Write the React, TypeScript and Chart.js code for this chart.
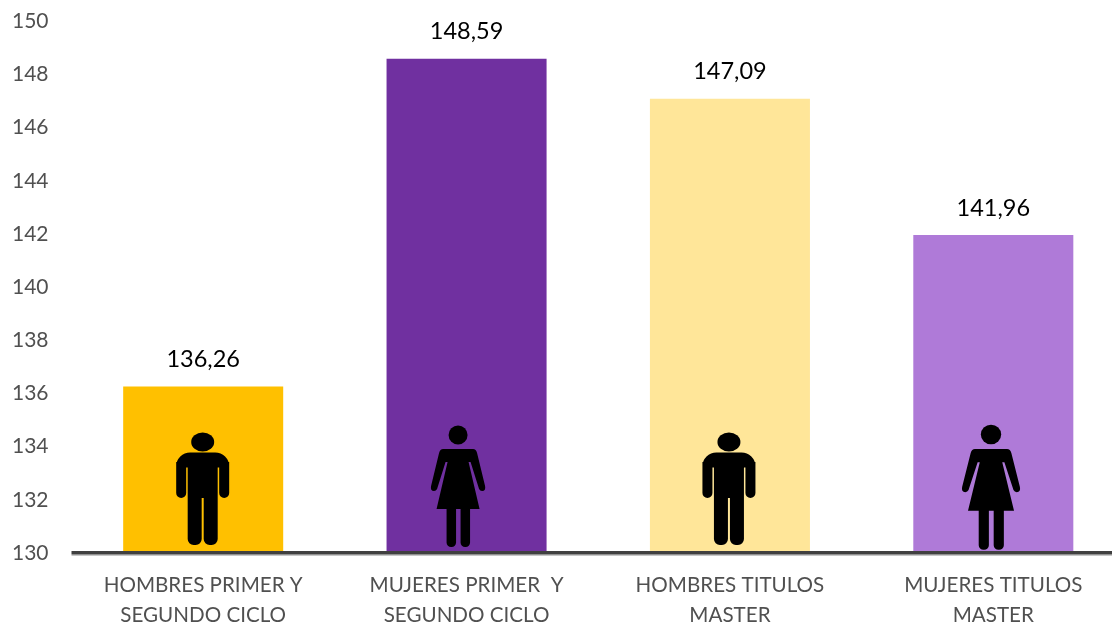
import React, { useEffect, useRef } from "react";
import { Chart, registerables } from "chart.js";

Chart.register(...registerables);

const categories = [
  ["HOMBRES PRIMER Y", "SEGUNDO CICLO"],
  ["MUJERES PRIMER  Y", "SEGUNDO CICLO"],
  ["HOMBRES TITULOS", "MASTER"],
  ["MUJERES TITULOS", "MASTER"],
];
const values = [136.26, 148.59, 147.09, 141.96];
const barColors = ["#FFC000", "#7030A0", "#FFE699", "#AF7AD8"];
const figures = ["man", "woman", "man", "woman"];

const FONT = "Lato";

function drawMan(c: CanvasRenderingContext2D) {
  c.beginPath();
  c.ellipse(0, -110, 11.5, 9.5, 0, 0, Math.PI * 2);
  c.fill();
  c.beginPath();
  c.roundRect(-26.5, -99.5, 53, 15, [14, 14, 0, 0]);
  c.roundRect(-26.5, -90, 10, 36, [0, 0, 5, 5]);
  c.roundRect(16.5, -90, 10, 36, [0, 0, 5, 5]);
  c.rect(-15, -95, 30, 41);
  c.roundRect(-15, -60, 14, 53, [0, 0, 6, 6]);
  c.roundRect(1, -60, 14, 53, [0, 0, 6, 6]);
  c.fill();
}

function drawWoman(c: CanvasRenderingContext2D) {
  c.beginPath();
  c.arc(0, -117, 9.5, 0, Math.PI * 2);
  c.fill();
  c.beginPath();
  c.moveTo(-15, -103);
  c.lineTo(15, -103);
  c.quadraticCurveTo(18, -103, 19, -99);
  c.lineTo(27, -66);
  c.quadraticCurveTo(28, -61, 24, -61);
  c.quadraticCurveTo(22, -61, 21, -63);
  c.lineTo(12.5, -90);
  c.lineTo(10.5, -90);
  c.lineTo(21.5, -43);
  c.lineTo(-21.5, -43);
  c.lineTo(-10.5, -90);
  c.lineTo(-12.5, -90);
  c.lineTo(-21, -63);
  c.quadraticCurveTo(-22, -61, -24, -61);
  c.quadraticCurveTo(-28, -61, -27, -66);
  c.lineTo(-19, -99);
  c.quadraticCurveTo(-18, -103, -15, -103);
  c.closePath();
  c.fill();
  c.beginPath();
  c.roundRect(-11.5, -50, 9.5, 45, [0, 0, 4.5, 4.5]);
  c.roundRect(2.5, -50, 9.5, 45, [0, 0, 4.5, 4.5]);
  c.fill();
}

// Icon placement relative to each bar's centre and base.
const figureOffset = [
  { dx: -0.5, dy: -1, sx: 1, sy: 1 },
  { dx: -8.5, dy: -1, sx: 1, sy: 1 },
  { dx: -1, dy: -1, sx: 1, sy: 1 },
  { dx: -2.3, dy: 2, sx: 1.07, sy: 1.03 },
];

const barExtras = {
  id: "barExtras",
  afterDatasetsDraw(chart: any) {
    const c = chart.ctx as CanvasRenderingContext2D;
    const meta = chart.getDatasetMeta(0);
    const base = chart.scales.y.bottom;
    // Axis line with its soft lower edge, as in the reference.
    const { left, right } = chart.chartArea;
    c.save();
    c.fillStyle = "#404040";
    c.fillRect(left, base - 2, right - left, 3);
    c.fillStyle = "#909090";
    c.fillRect(left, base + 1, right - left, 1.5);
    c.restore();
    meta.data.forEach((bar: any, i: number) => {
      c.save();
      c.fillStyle = "#000";
      c.textAlign = "center";
      c.textBaseline = "middle";
      c.font = `23.5px ${FONT}`;
      c.fillText(values[i].toFixed(2).replace(".", ","), bar.x, bar.y - 27);
      const o = figureOffset[i];
      c.translate(bar.x + o.dx, base + o.dy);
      c.scale(o.sx, o.sy);
      if (figures[i] === "man") drawMan(c);
      else drawWoman(c);
      c.restore();
    });
  },
};

export default function App() {
  const ref = useRef<HTMLCanvasElement>(null);
  useEffect(() => {
    document.body.style.margin = "0";
    const chart = new Chart(ref.current!, {
      type: "bar",
      data: {
        labels: categories,
        datasets: [
          {
            data: values,
            backgroundColor: barColors,
            categoryPercentage: 1,
            barPercentage: 0.6076,
          },
        ],
      },
      options: {
        animation: false,
        responsive: false,
        layout: { padding: { top: 21.3, left: 0, right: 0, bottom: 0 } },
        plugins: { legend: { display: false }, tooltip: { enabled: false }, title: { display: false } },
        scales: {
          x: {
            grid: { display: false, drawTicks: false },
            border: { display: false },
            afterFit(s: any) { s.height = 70; s.paddingLeft = 0; s.paddingRight = 0; },
            ticks: {
              color: "#505050",
              font: { family: FONT, size: 20.6, lineHeight: 1.42 },
              padding: 18,
              maxRotation: 0,
              autoSkip: false,
            },
          },
          y: {
            min: 130,
            max: 150,
            grid: { display: false, drawTicks: false },
            border: { display: false },
            afterFit(s: any) { s.width = 71.5; s.paddingTop = 0; s.paddingBottom = 0; },
            ticks: {
              stepSize: 2,
              color: "#505050",
              font: { family: FONT, size: 21 },
              padding: 23,
            },
          },
        },
      },
      plugins: [barExtras],
    });
    return () => chart.destroy();
  }, []);
  return (
    <div style={{ width: 1112, height: 623, overflow: "hidden" }}>
      <canvas ref={ref} width={1125} height={623} style={{ display: "block", width: 1125, height: 623 }} />
    </div>
  );
}
